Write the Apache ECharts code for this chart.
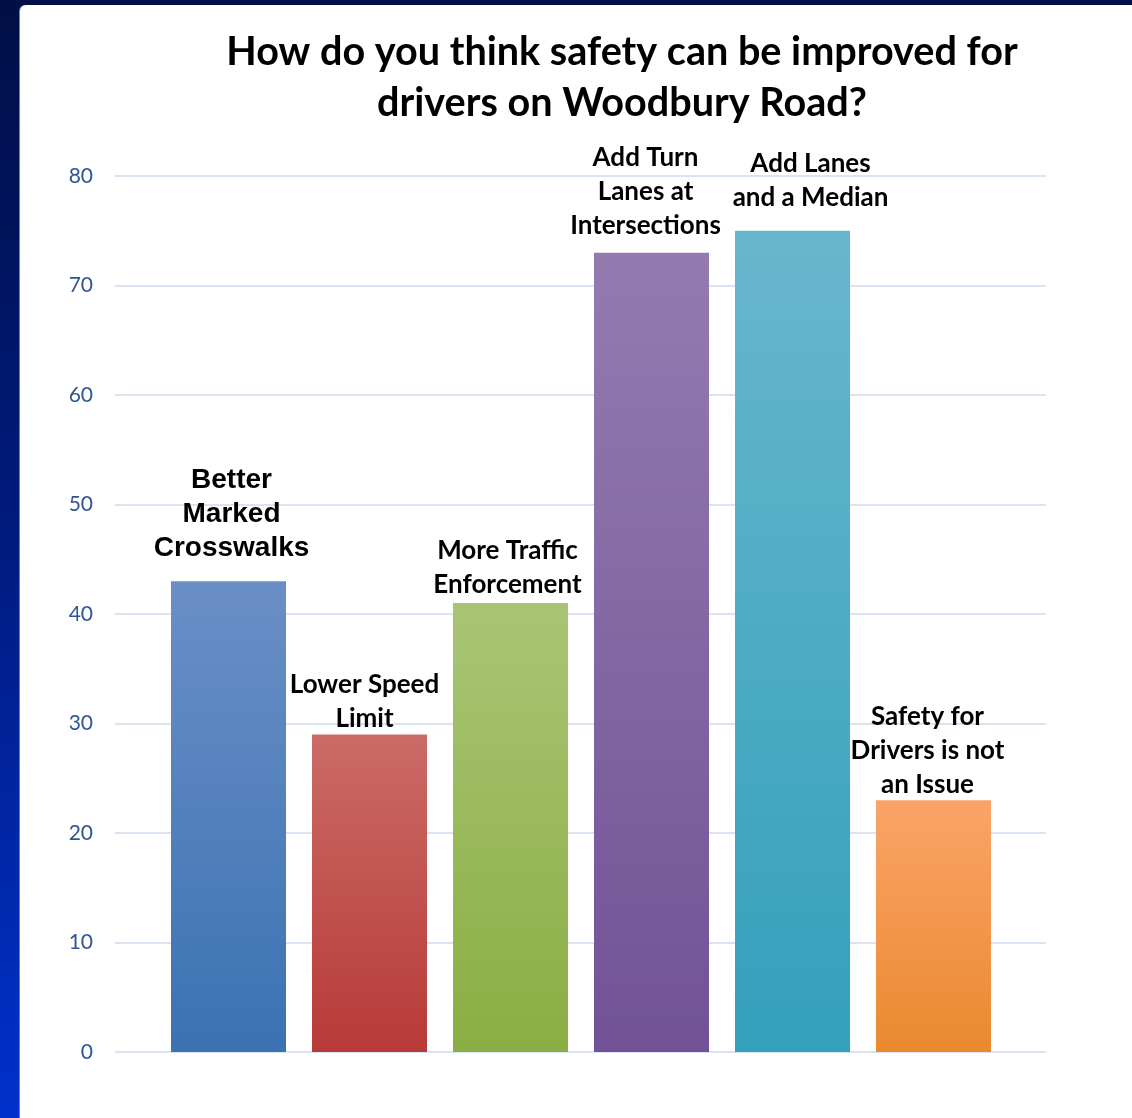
<!DOCTYPE html>
<html>
<head>
<meta charset="utf-8">
<script src="https://cdn.jsdelivr.net/npm/echarts@6/dist/echarts.min.js"></script>
<style>
  html, body { margin: 0; padding: 0; }
  body { width: 1132px; height: 1118px; position: relative; overflow: hidden;
         background: linear-gradient(to bottom, #000f45 0%, #001a7a 45%, #0031cc 100%); }
  #panel { position: absolute; left: 20px; top: 5px; right: 0; bottom: 0; background: #ffffff;
           border-top-left-radius: 6px; box-shadow: -1px 0 0 #5a7fd0; }
  #chart { position: absolute; left: 0; top: 0; width: 1132px; height: 1118px; }
</style>
</head>
<body>
<div id="panel"></div>
<div id="chart"></div>
<script>
const titleLines = ['How do you think safety can be improved for', 'drivers on Woodbury Road?'];
const categories = [
  'Better\nMarked\nCrosswalks',
  'Lower Speed\nLimit',
  'More Traffic\nEnforcement',
  'Add Turn\nLanes at\nIntersections',
  'Add Lanes\nand a Median',
  'Safety for\nDrivers is not\nan Issue'
];
const values = [43, 29, 41, 73, 75, 23];
const yTicks = { min: 0, max: 80, interval: 10 };

// styling (not data)
const barGradients = [
  ['#6a8fc6', '#3b72b3'],
  ['#ca6b67', '#b83a38'],
  ['#a9c574', '#8aae43'],
  ['#937bb0', '#725296'],
  ['#68b6ce', '#34a0bb'],
  ['#f9a468', '#ea892f']
];
const labelOffsets = [[3, -16], [-5, 1], [-3, -1], [-6, -10], [18, -16], [-6, 1]];
const labelFonts = ['"Liberation Sans", Arial, sans-serif', 'Lato', 'Lato', 'Lato', 'Lato', 'Lato'];
const labelSizes = [28, 26, 26, 26, 26, 26];

const chart = echarts.init(document.getElementById('chart'), null, { renderer: 'canvas' });

const seriesData = values.map((v, i) => ({
  value: v,
  itemStyle: {
    color: new echarts.graphic.LinearGradient(0, 0, 0, 1, [
      { offset: 0, color: barGradients[i][0] },
      { offset: 1, color: barGradients[i][1] }
    ])
  },
  label: {
    offset: labelOffsets[i],
    fontFamily: labelFonts[i],
    fontSize: labelSizes[i],
    lineHeight: 34
  }
}));

chart.setOption({
  backgroundColor: 'transparent',
  animation: false,
  title: {
    text: titleLines.join('\n'),
    left: 617,
    top: 22,
    textAlign: 'center',
    textStyle: {
      fontFamily: 'Lato',
      fontWeight: 'bold',
      fontSize: 39.6,
      lineHeight: 51,
      color: '#000000'
    }
  },
  grid: [
    { left: 115, right: 86, top: 176, height: 876, containLabel: false },
    { left: 158, width: 846, top: 176, height: 876, containLabel: false }
  ],
  xAxis: [
    { type: 'category', gridIndex: 0, data: categories, show: false },
    { type: 'category', gridIndex: 1, data: categories,
      axisLine: { show: false }, axisTick: { show: false }, axisLabel: { show: false } }
  ],
  yAxis: [
    {
      type: 'value', gridIndex: 0, min: yTicks.min, max: yTicks.max, interval: yTicks.interval,
      axisLine: { show: false }, axisTick: { show: false },
      axisLabel: { margin: 22, fontFamily: 'Lato', fontSize: 21, color: '#2f5597' },
      splitLine: { show: true, lineStyle: { color: '#d9e3f1', width: 2 } }
    },
    {
      type: 'value', gridIndex: 1, min: yTicks.min, max: yTicks.max, interval: yTicks.interval,
      show: false, splitLine: { show: false }
    }
  ],
  series: [{
    type: 'bar',
    xAxisIndex: 1,
    yAxisIndex: 1,
    data: seriesData,
    barWidth: 115,
    label: {
      show: true,
      position: 'top',
      distance: 0,
      formatter: (p) => p.name,
      color: '#000000',
      fontWeight: 'bold',
      align: 'center'
    }
  }]
});
</script>
</body>
</html>
